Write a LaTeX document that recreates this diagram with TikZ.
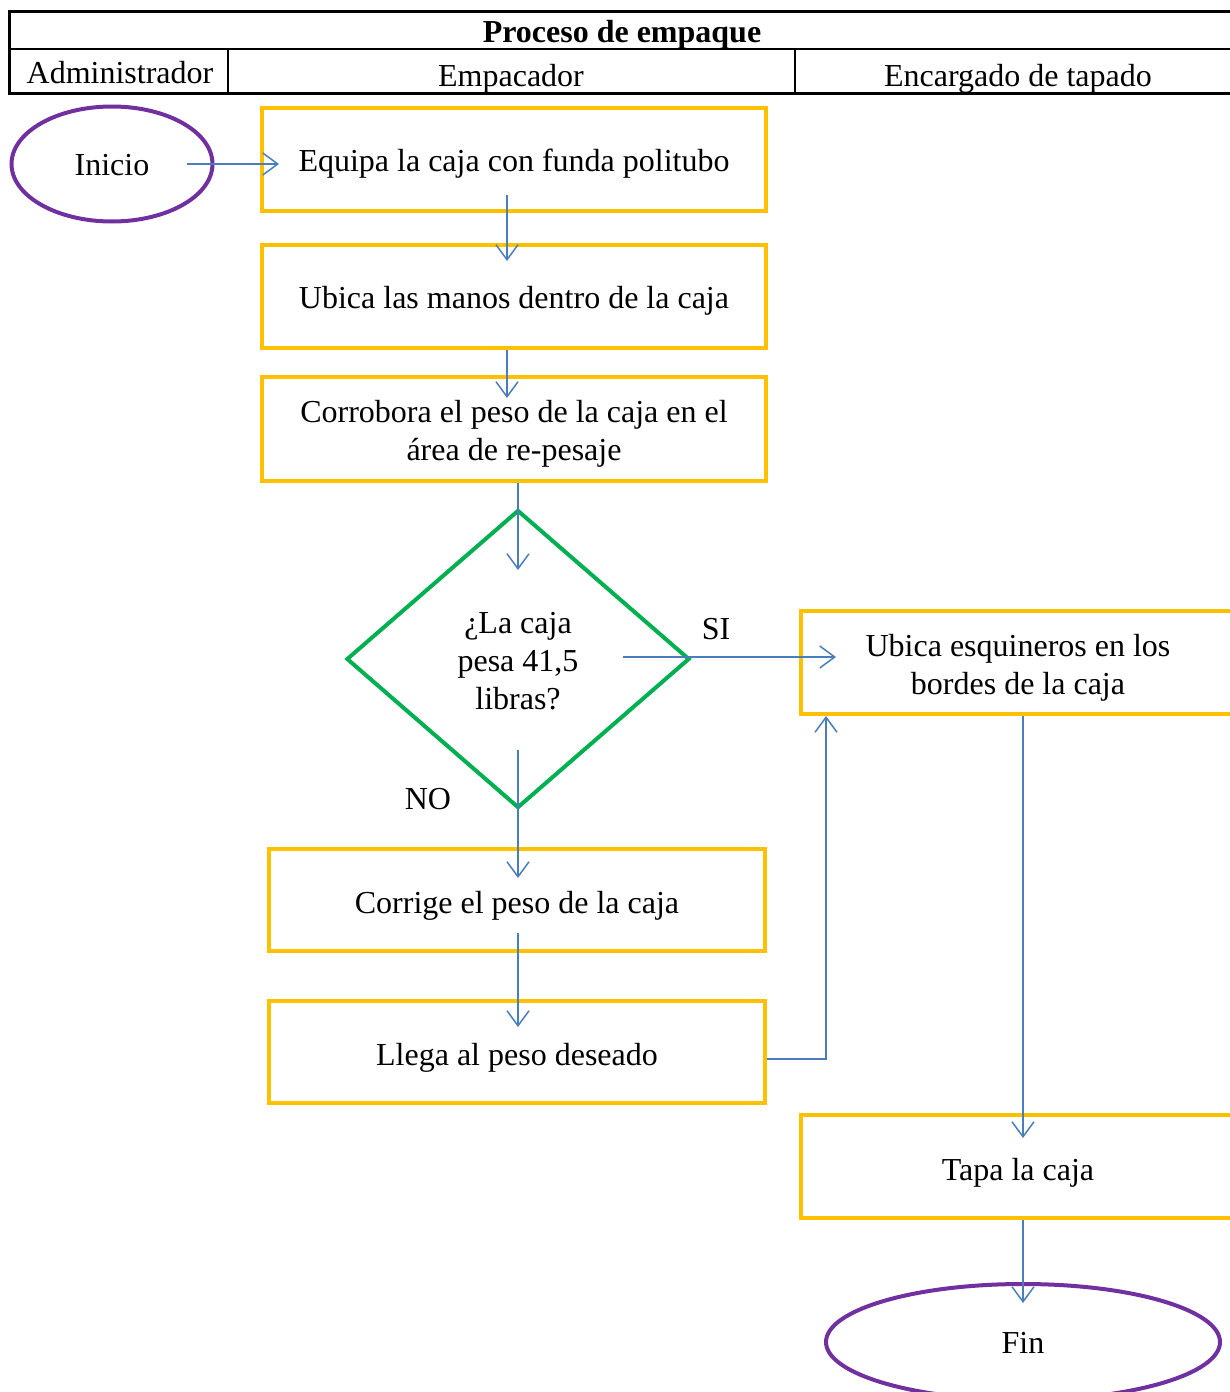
\documentclass[tikz,border=0pt]{standalone}
\usepackage{fontspec}
\setmainfont{Liberation Serif}
\usetikzlibrary{shapes.geometric,arrows.meta}
\definecolor{boxy}{HTML}{FFC000}
\definecolor{diag}{HTML}{00B050}
\definecolor{term}{HTML}{7030A0}
\definecolor{conn}{HTML}{4A7EBB}
\newcommand\lw[2][5pt]{\raisebox{-#1}[\height][\depth]{\begin{tabular}{@{}c@{}}#2\end{tabular}}}
\tikzset{
  every node/.style={font=\fontsize{32}{38}\selectfont},
  procbox/.style={rectangle, draw=boxy, line width=4pt, inner sep=0pt},
  termbox/.style={ellipse, draw=term, line width=4pt, inner sep=0pt},
  decbox/.style={diamond, draw=diag, line width=4pt, inner sep=0pt},
  arr/.style={draw=conn, line width=1.5pt, -{Straight Barb[length=15pt,width=22pt]}},
  lbl/.style={inner sep=0pt}
}
\begin{document}
\begin{tikzpicture}[x=1pt,y=-1pt]
\useasboundingbox (0,0) rectangle (1230,1392);
\clip (0,0) rectangle (1230,1392);
% header table
\draw[line width=3pt] (9,11) rectangle (1240,93);
\draw[line width=1.5pt] (9,49) -- (1240,49);
\draw[line width=1.5pt] (228,49) -- (228,93);
\draw[line width=1.5pt] (795,49) -- (795,93);
\node[lbl,font=\fontsize{32}{38}\selectfont\bfseries] (title) at (622,31) {\lw[4pt]{Proceso de empaque}};
\node[lbl] (adm) at (120,72) {\lw[4pt]{Administrador}};
\node[lbl] (emp) at (511,75) {\lw[4pt]{Empacador}};
\node[lbl] (enc) at (1018,75) {\lw[4pt]{Encargado de tapado}};
% nodes
\node[termbox, minimum width=201pt, minimum height=115pt] (ini) at (112,164) {\lw[4pt]{Inicio}};
\node[procbox, minimum width=504pt, minimum height=103pt] (b1) at (514,159.5) {\lw[4pt]{Equipa la caja con funda politubo}};
\node[procbox, minimum width=504pt, minimum height=103pt] (b2) at (514,296.5) {\lw[4pt]{Ubica las manos dentro de la caja}};
\node[procbox, minimum width=504pt, minimum height=104pt] (b3) at (514,429) {\lw[5pt]{Corrobora el peso de la caja en el\\área de re-pesaje}};
\node[decbox, minimum width=343pt, minimum height=298pt] (dia) at (518,659) {\lw[5pt]{¿La caja\\pesa 41,5\\libras?}};
\node[procbox, minimum width=434pt, minimum height=103pt] (ub) at (1018,662.5) {\lw[5pt]{Ubica esquineros en los\\bordes de la caja}};
\node[procbox, minimum width=496pt, minimum height=102pt] (co) at (517,900) {\lw[6pt]{Corrige el peso de la caja}};
\node[procbox, minimum width=496pt, minimum height=102pt] (ll) at (517,1052) {\lw[6pt]{Llega al peso deseado}};
\node[procbox, minimum width=434pt, minimum height=103pt] (ta) at (1018,1166.5) {\lw[6pt]{Tapa la caja}};
\node[termbox, minimum width=394pt, minimum height=116pt] (fin) at (1023,1342) {\lw[4pt]{Fin}};
\node[lbl] (si) at (716,628) {\lw[4pt]{SI}};
\node[lbl] (no) at (428,798) {\lw[4pt]{NO}};
% connectors
\draw[arr] ([xshift=75pt]ini.center) -- ([xshift=19pt]ini.center -| b1.west);
\draw[arr] ([xshift=-7pt,yshift=18pt]b1.south) -- ([xshift=-7pt,yshift=-18pt]b2.north);
\draw[arr] ([xshift=-7pt]b2.south) -- ([xshift=-7pt,yshift=-23pt]b3.north);
\draw[arr] ([xshift=4pt]b3.south) -- ([xshift=4pt,yshift=-62pt]b3.south |- dia.north);
\draw[arr] ([xshift=105pt,yshift=2pt]dia.center) -- ([xshift=37pt,yshift=2pt]dia.center -| ub.west);
\draw[arr] ([yshift=60pt]dia.south) -- ([yshift=-31pt]dia.south |- co.north);
\draw[arr] ([xshift=1pt,yshift=20pt]co.south) -- ([xshift=1pt,yshift=-28pt]ll.north);
\draw[arr] ([yshift=-7pt]ll.east) -| ([xshift=27pt]ub.south west);
\draw[arr] ([xshift=5pt]ub.south) -- ([xshift=5pt,yshift=-25pt]ta.north);
\draw[arr] ([xshift=5pt]ta.south) -- ([yshift=-21pt]fin.north);
\end{tikzpicture}
\end{document}
